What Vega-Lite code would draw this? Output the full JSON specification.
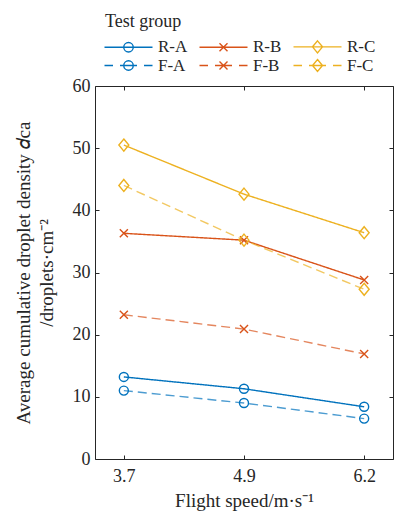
{
  "$schema": "https://vega.github.io/schema/vega-lite/v6.json",
  "width": 298,
  "height": 373,
  "autosize": {"type": "none"},
  "padding": {"left": 95, "top": 86, "right": 2, "bottom": 52},
  "config": {
    "font": "Liberation Serif",
    "view": {"stroke": "#262626", "strokeWidth": 1},
    "axis": {
      "domain": false,
      "grid": false,
      "tickColor": "#262626",
      "tickSize": -4,
      "labelColor": "#262626",
      "titleColor": "#262626",
      "labelFont": "Liberation Serif",
      "titleFont": "Liberation Serif",
      "labelFontSize": 18,
      "titleFontSize": 19,
      "titleFontWeight": "normal"
    },
    "legend": {
      "orient": "none",
      "legendX": 10,
      "legendY": -73,
      "padding": 0,
      "columns": 3,
      "direction": "horizontal",
      "symbolSize": 100,
      "symbolStrokeWidth": 1.4,
      "symbolOffset": 15,
      "labelFont": "Liberation Serif",
      "titleFont": "Liberation Serif",
      "labelFontSize": 17,
      "titleFontSize": 18,
      "titleFontWeight": "normal",
      "labelColor": "#262626",
      "titleColor": "#262626",
      "labelOffset": 21,
      "columnPadding": 8,
      "rowPadding": 0,
      "titlePadding": 7
    }
  },
  "data": {
    "values": [
      {"group": "R-A", "type": "R", "letter": "A", "speed": "3.7", "value": 13.2},
      {"group": "R-A", "type": "R", "letter": "A", "speed": "4.9", "value": 11.3},
      {"group": "R-A", "type": "R", "letter": "A", "speed": "6.2", "value": 8.4},
      {"group": "F-A", "type": "F", "letter": "A", "speed": "3.7", "value": 11.0},
      {"group": "F-A", "type": "F", "letter": "A", "speed": "4.9", "value": 9.0},
      {"group": "F-A", "type": "F", "letter": "A", "speed": "6.2", "value": 6.5},
      {"group": "R-B", "type": "R", "letter": "B", "speed": "3.7", "value": 36.3},
      {"group": "R-B", "type": "R", "letter": "B", "speed": "4.9", "value": 35.2},
      {"group": "R-B", "type": "R", "letter": "B", "speed": "6.2", "value": 28.8},
      {"group": "F-B", "type": "F", "letter": "B", "speed": "3.7", "value": 23.2},
      {"group": "F-B", "type": "F", "letter": "B", "speed": "4.9", "value": 20.9},
      {"group": "F-B", "type": "F", "letter": "B", "speed": "6.2", "value": 16.9},
      {"group": "R-C", "type": "R", "letter": "C", "speed": "3.7", "value": 50.5},
      {"group": "R-C", "type": "R", "letter": "C", "speed": "4.9", "value": 42.6},
      {"group": "R-C", "type": "R", "letter": "C", "speed": "6.2", "value": 36.4},
      {"group": "F-C", "type": "F", "letter": "C", "speed": "3.7", "value": 44.0},
      {"group": "F-C", "type": "F", "letter": "C", "speed": "4.9", "value": 35.2},
      {"group": "F-C", "type": "F", "letter": "C", "speed": "6.2", "value": 27.3}
    ]
  },
  "layer": [
    {
      "mark": {"type": "line", "strokeWidth": 1.4},
      "encoding": {
        "x": {
          "field": "speed",
          "type": "ordinal",
          "sort": ["3.7", "4.9", "6.2"],
          "scale": {"type": "point", "padding": 0.24},
          "axis": {"orient": "bottom", "title": "Flight speed/m·s⁻¹", "labelAngle": 0, "labelPadding": 12, "titlePadding": 6}
        },
        "y": {
          "field": "value",
          "type": "quantitative",
          "scale": {"domain": [0, 60]},
          "axis": {
            "orient": "left",
            "values": [0, 10, 20, 30, 40, 50, 60],
            "title": ["Average cumulative droplet density 𝑑ca", "/droplets·cm⁻²"],
            "titleLineHeight": 23,
            "labelPadding": 9,
            "titlePadding": 16
          }
        },
        "color": {
          "field": "group",
          "type": "nominal",
          "scale": {
            "domain": ["R-A", "R-B", "R-C", "F-A", "F-B", "F-C"],
            "range": ["#0072BD", "#D95319", "#EDB120", "#0072BD", "#D95319", "#EDB120"]
          },
          "legend": {
            "title": "Test group",
            "encode": {
              "symbols": {
                "update": {
                  "shape": {"signal": "(substring(datum.value,0,1)=='R' ? 'M-4.8,0H4.8' : 'M-4.8,0H-3.1M-1.7,0H1.7M3.1,0H4.8') + (substring(datum.value,2,3)=='A' ? 'M0.95,0A0.95,0.95 0 1,1 -0.95,0A0.95,0.95 0 1,1 0.95,0' : (substring(datum.value,2,3)=='B' ? 'M-0.8,-0.8L0.8,0.8M-0.8,0.8L0.8,-0.8' : 'M0,-1.2L1,0L0,1.2L-1,0Z'))"},
                  "fill": {"value": "transparent"}
                }
              }
            }
          }
        },
        "strokeDash": {
          "field": "type",
          "type": "nominal",
          "scale": {"domain": ["R", "F"], "range": [[1, 0], [9, 5]]},
          "legend": null
        },
        "strokeOpacity": {
          "field": "type",
          "type": "nominal",
          "scale": {"domain": ["R", "F"], "range": [1, 0.7]},
          "legend": null
        }
      }
    },
    {
      "mark": {"type": "point", "filled": false, "size": 90, "strokeWidth": 1.4, "opacity": 1},
      "encoding": {
        "x": {
          "field": "speed",
          "type": "ordinal",
          "sort": ["3.7", "4.9", "6.2"],
          "axis": {"orient": "top", "labels": false, "title": null}
        },
        "y": {
          "field": "value",
          "type": "quantitative",
          "axis": {"orient": "right", "labels": false, "title": null, "values": [0, 10, 20, 30, 40, 50, 60]}
        },
        "color": {
          "field": "group",
          "type": "nominal",
          "legend": null
        },
        "shape": {
          "field": "letter",
          "type": "nominal",
          "legend": null,
          "scale": {
            "domain": ["A", "B", "C"],
            "range": [
              "M0.95,0A0.95,0.95 0 1,1 -0.95,0A0.95,0.95 0 1,1 0.95,0Z",
              "M-0.85,-0.85L0.85,0.85M-0.85,0.85L0.85,-0.85",
              "M0,-1.27L1.05,0L0,1.27L-1.05,0Z"
            ]
          }
        }
      }
    }
  ],
  "resolve": {"axis": {"x": "independent", "y": "independent"}}
}
